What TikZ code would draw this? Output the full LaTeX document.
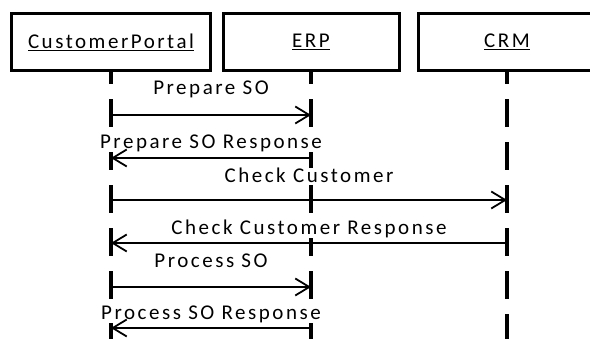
\documentclass[tikz,border=0pt]{standalone}
\usepackage{fontspec}
\setmainfont{Carlito}[LetterSpace=12]
\usetikzlibrary{arrows.meta}

\tikzset{
	lane/.style={draw, line width=3pt, minimum height=57pt, inner sep=0pt},
	life/.style={line width=4pt, dash pattern=on 28pt off 15pt, dash phase=15.5pt},
	msg/.style={line width=1.5pt, -{Straight Barb[length=14pt,width=17pt,line width=1.8pt]}},
	msglabel/.style={anchor=base, inner sep=0pt, fill=white}
}

\begin{document}
\begin{tikzpicture}[x=1pt,y=-1pt,font=\fontsize{21pt}{25pt}\selectfont]
	\clip (0,0) rectangle (590,339);
	\node[lane, minimum width=199pt] at (111,42) (cp) {\underline{CustomerPortal}};
	\node[lane, minimum width=176pt] at (311,42) (erp) {\underline{ERP}};
	\node[lane, minimum width=177pt] at (507,42) (crm) {\underline{CRM}};
	\coordinate (bot) at (0,350);
	\draw[life] (cp.south) -- (cp |- bot);
	\draw[life] (erp.south) -- (erp |- bot);
	\draw[life] (crm.south) -- (crm |- bot);
	% messages
	\coordinate (m1) at (0,115);
	\coordinate (m2) at (0,158);
	\coordinate (m3) at (0,200);
	\coordinate (m4) at (0,243);
	\coordinate (m5) at (0,287);
	\coordinate (m6) at (0,328);
	\node[msglabel] at (211,95) (l1) {Prepare SO};
	\node[msglabel] at (211,149) (l2) {Prepare SO Response};
	\node[msglabel] at (309,183) (l3) {Check Customer};
	\node[msglabel] at (309,235) (l4) {Check Customer Response};
	\node[msglabel] at (211,268) (l5) {Process SO};
	\node[msglabel] at (211,320) (l6) {Process SO Response};
	\draw[msg] (cp |- m1) -- (erp |- m1);
	\draw[msg] (erp |- m2) -- (cp |- m2);
	\draw[msg] (cp |- m3) -- (crm |- m3);
	\draw[msg] (crm |- m4) -- (cp |- m4);
	\draw[msg] (cp |- m5) -- (erp |- m5);
	\draw[msg] (erp |- m6) -- (cp |- m6);
\end{tikzpicture}
\end{document}
